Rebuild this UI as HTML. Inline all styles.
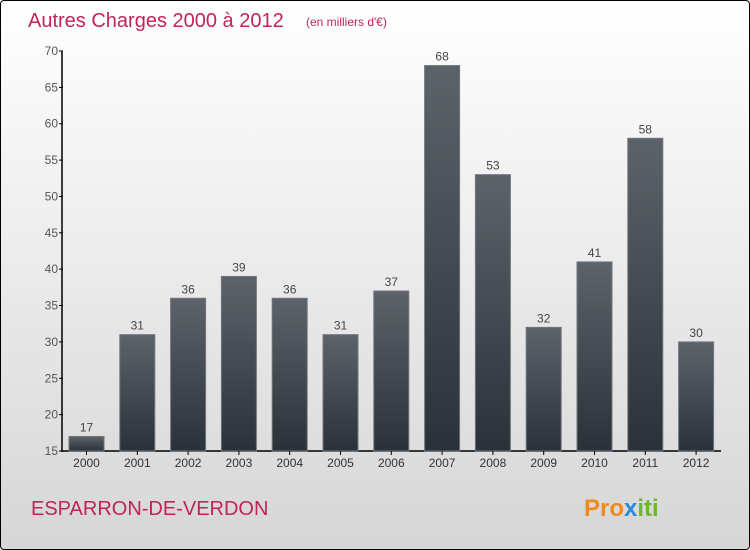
<!DOCTYPE html>
<html><head><meta charset="utf-8"><style>
body{margin:0}
#c{width:750px;height:550px;position:relative;box-sizing:border-box;border:1px solid #000;border-radius:4px;overflow:hidden;background:linear-gradient(#fff,#d6d6d6);font-family:"Liberation Sans",sans-serif}
</style></head><body>
<div id="c">
<svg width="750" height="550" id="s">
<defs><linearGradient id="g" x1="0" y1="0" x2="0" y2="1"><stop offset="0" stop-color="#5d636a"/><stop offset="1" stop-color="#2b3139"/></linearGradient></defs>
<text x="27" y="26" font-size="20" fill="#c0245a">Autres Charges 2000 à 2012</text>
<text x="305" y="25" font-size="12" fill="#c0245a">(en milliers d'€)</text>
<text x="30" y="514" font-size="20" fill="#c0245a">ESPARRON-DE-VERDON</text>
<text x="583" y="515" font-size="24" font-weight="bold" fill="#f08a1c">Pro<tspan fill="#2a8ad8">x</tspan><tspan fill="#6cb82c">iti</tspan></text>
<g id="plot"></g>
</svg></div>
<script>
const years=["2000","2001","2002","2003","2004","2005","2006","2007","2008","2009","2010","2011","2012"];
const values=[17,31,36,39,36,31,37,68,53,32,41,58,30];
const yTicks=[15,20,25,30,35,40,45,50,55,60,65,70];
const NS="http://www.w3.org/2000/svg",p=document.getElementById('plot');
const y=v=>450-(v-15)*400/55, x=i=>85.5+i*50.8;
function mk(t,a,txt){const e=document.createElementNS(NS,t);for(const k in a)e.setAttribute(k,a[k]);if(txt!=null)e.textContent=txt;p.appendChild(e);return e;}
let e=mk('line',{x1:61,y1:50,x2:61,y2:451,stroke:'#000','stroke-width':1.5});


e=mk('line',{x1:61,y1:450,x2:720,y2:450,stroke:'#000','stroke-width':1.5});


yTicks.forEach(v=>{
 e=mk('line',{x1:58,y1:y(v),x2:62,y2:y(v),stroke:'#000'});
 
 
 e=mk('text',{x:57,y:y(v)+4,'font-size':12,fill:'#555','text-anchor':'end'},v);
 
 
});
years.forEach((yr,i)=>{
 const v=values[i];
 e=mk('rect',{x:x(i)-17.5,y:y(v),width:35,height:450-y(v),fill:'url(#g)',stroke:'#70767c','stroke-width':1});
 
 
 e=mk('text',{x:x(i),y:y(v)-5,'font-size':12,fill:'#444','text-anchor':'middle'},v);
 
 
 e=mk('line',{x1:x(i),y1:450,x2:x(i),y2:454,stroke:'#000'});
 
 
 e=mk('text',{x:x(i),y:466,'font-size':12,fill:'#333','text-anchor':'middle'},yr);
 
 
});
</script>
</body></html>
